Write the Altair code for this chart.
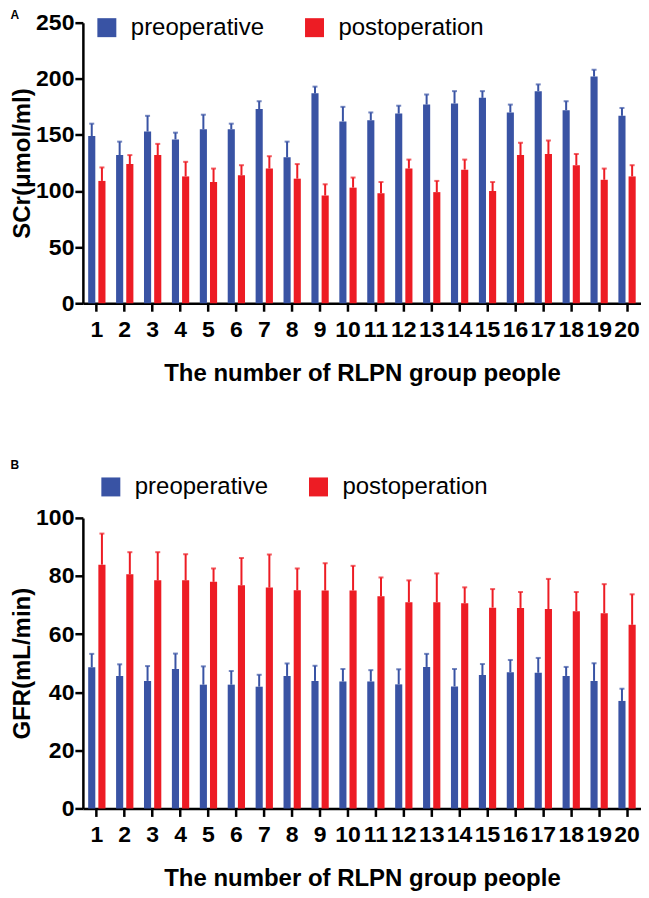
import altair as alt
import pandas as pd

people = [str(i) for i in range(1, 21)]
groups = ["preoperative", "postoperation"]
colors = ["#3953a4", "#ed1c24"]

# Panel A: SCr (umol/ml), mean and SD
scr_pre = [149, 132, 153, 146, 155, 155, 173, 130, 187, 162, 163, 169, 177, 178, 183, 170, 189, 172, 202, 167]
scr_pre_sd = [11, 12, 14, 6, 13, 5, 7, 14, 6, 13, 7, 7, 9, 11, 6, 7, 6, 8, 6, 7]
scr_post = [109, 124, 132, 113, 108, 114, 120, 111, 96, 103, 98, 120, 99, 119, 100, 132, 133, 123, 110, 113]
scr_post_sd = [12, 8, 10, 13, 12, 9, 11, 13, 10, 9, 10, 8, 10, 9, 8, 11, 12, 10, 10, 10]

# Panel B: GFR (mL/min), mean and SD
gfr_pre = [48.6, 45.6, 43.9, 48.0, 42.6, 42.6, 41.9, 45.6, 43.9, 43.7, 43.7, 42.7, 48.7, 42.0, 45.9, 46.9, 46.7, 45.6, 43.9, 37.0]
gfr_pre_sd = [4.6, 4.0, 5.1, 5.3, 6.3, 4.7, 4.1, 4.3, 5.2, 4.3, 3.9, 5.2, 4.5, 6.0, 3.8, 4.2, 5.1, 3.1, 6.1, 4.2]
gfr_post = [83.9, 80.6, 78.5, 78.5, 78.0, 76.8, 76.0, 75.1, 75.0, 75.0, 73.0, 71.0, 71.0, 70.6, 69.1, 69.0, 68.6, 67.9, 67.2, 63.2]
gfr_post_sd = [10.7, 7.6, 9.7, 9.0, 4.6, 9.4, 11.4, 7.5, 9.4, 8.5, 6.5, 7.5, 9.9, 5.5, 6.4, 5.5, 10.4, 6.6, 10.0, 10.5]

x_title = "The number of RLPN group people"
FONT = "Liberation Sans"


def make_df(pre, pre_sd, post, post_sd):
    rows = []
    for i, p in enumerate(people):
        rows.append({"person": p, "group": groups[0], "value": pre[i], "upper": pre[i] + pre_sd[i]})
        rows.append({"person": p, "group": groups[1], "value": post[i], "upper": post[i] + post_sd[i]})
    return pd.DataFrame(rows)


def panel(df, letter, ytitle, ymax, ystep, height, legend_x, legend_y, title_offset):
    x = alt.X(
        "person:N", sort=people, title=x_title,
        scale=alt.Scale(paddingInner=0.38, paddingOuter=0.19),
        axis=alt.Axis(
            labelAngle=0, labelFont=FONT, labelFontSize=23, labelFontWeight="bold",
            labelColor="black", labelPadding=7, labelOverlap=False,
            tickSize=8, tickWidth=2.5, tickColor="black",
            domainColor="black", domainWidth=2.5,
            titleFont=FONT, titleFontSize=24, titleFontWeight="bold",
            titleColor="black", titlePadding=20,
        ),
    )
    xo = alt.XOffset("group:N", sort=groups, scale=alt.Scale(paddingInner=0.3))
    cscale = alt.Scale(domain=groups, range=colors)
    color = alt.Color(
        "group:N", sort=groups, scale=cscale,
        legend=alt.Legend(
            title=None, orient="none", direction="horizontal",
            legendX=legend_x, legendY=legend_y,
            symbolType="square", symbolSize=361, symbolStrokeWidth=0, symbolOpacity=1,
            labelFont=FONT, labelFontSize=24, labelColor="black",
            labelOffset=12, columnPadding=38,
        ),
    )
    color_nolegend = alt.Color("group:N", sort=groups, scale=cscale, legend=None)
    y = alt.Y(
        "value:Q", title=ytitle,
        scale=alt.Scale(domain=[0, ymax], nice=False),
        axis=alt.Axis(
            values=list(range(0, ymax + 1, ystep)), grid=False,
            labelFont=FONT, labelFontSize=23, labelFontWeight="bold",
            labelColor="black", labelPadding=1,
            tickSize=8, tickWidth=2.5, tickColor="black",
            domainColor="black", domainWidth=2.5,
            titleFont=FONT, titleFontSize=24, titleFontWeight="bold",
            titleColor="black", titlePadding=1,
        ),
    )
    base = alt.Chart(df)
    bars = base.mark_bar().encode(x=x, xOffset=xo, y=y, color=color)
    err = base.mark_rule(strokeWidth=2).encode(
        x=x, xOffset=xo, y="value:Q", y2="upper:Q", color=color_nolegend
    )
    cap = base.mark_tick(thickness=2, size=5).encode(
        x=x, xOffset=xo, y="upper:Q", color=color_nolegend
    )
    return alt.layer(bars, err, cap).properties(
        width=559, height=height,
        title=alt.TitleParams(
            letter, anchor="start", frame="bounds", fontSize=12,
            fontWeight="bold", font=FONT, color="black", offset=title_offset,
        ),
    )


top = panel(make_df(scr_pre, scr_pre_sd, scr_post, scr_post_sd),
            "A", "SCr(μmol/ml)", 250, 50, 281, 12, -7, -10)
bottom = panel(make_df(gfr_pre, gfr_pre_sd, gfr_post, gfr_post_sd),
               "B", "GFR(mL/min)", 100, 20, 291, 16, -43, 3)

chart = (
    alt.vconcat(top, bottom, spacing=74)
    .resolve_legend(color="independent")
    .resolve_scale(y="independent")
    .configure_view(stroke=None)
    .properties(padding={"left": 2, "top": 0, "right": 0, "bottom": 0})
)

chart.save("out.html", embed_options={"renderer": "svg", "actions": False})
